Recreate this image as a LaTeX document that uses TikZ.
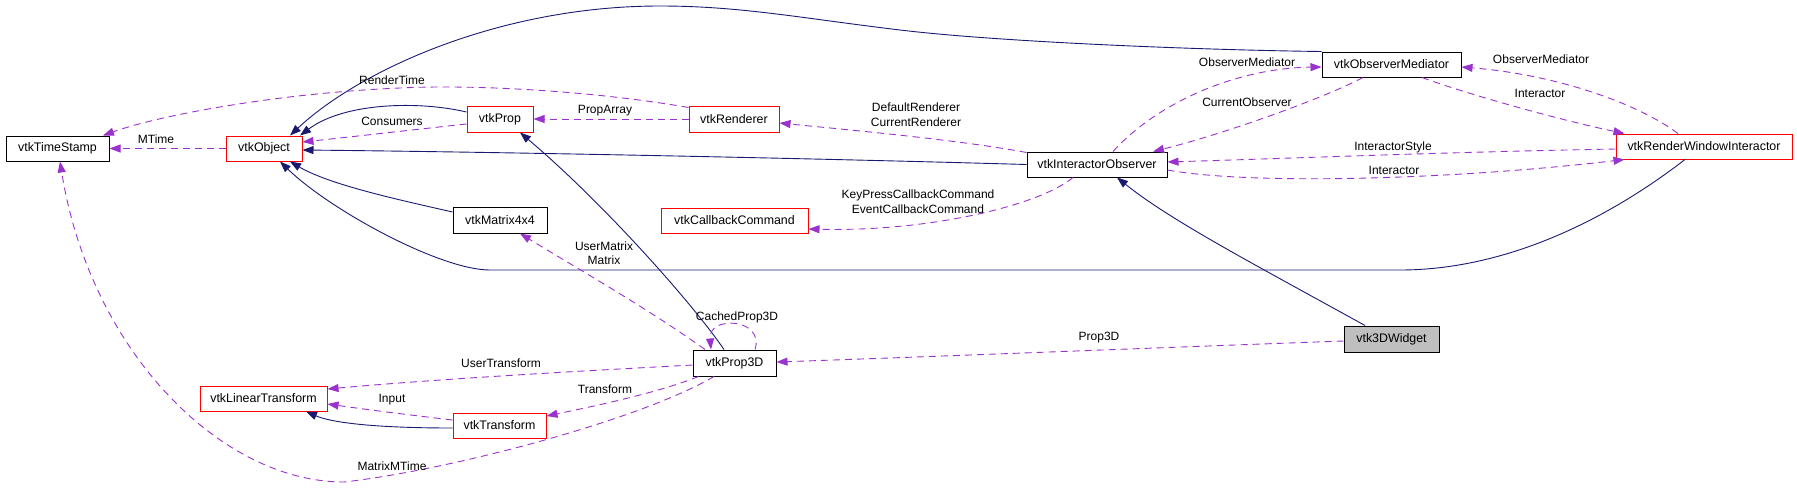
\documentclass[tikz,border=0pt]{standalone}
\usepackage{fontspec}
\setmainfont{Liberation Sans}
\usetikzlibrary{arrows.meta}
\definecolor{inhc}{HTML}{191970}
\definecolor{usec}{HTML}{9A32CD}
\definecolor{gfill}{HTML}{BFBFBF}
\begin{document}
\begin{tikzpicture}[x=1pt,y=-1pt,
 cls/.style={draw=black, line width=1pt, fill=white, inner sep=0pt, font=\fontsize{12.4}{14.5}\selectfont},
 redcls/.style={cls, draw=red},
 inhline/.style={draw=inhc, line width=0.9pt, -{Triangle[length=11pt,width=8pt]}},
 useline/.style={draw=usec, line width=0.9pt, dash pattern=on 7pt off 5pt, -{Triangle[length=11pt,width=8pt]}},
 lbl/.style={inner sep=0pt, font=\fontsize{12}{14.5}\selectfont, align=center}]
\useasboundingbox (0,0) rectangle (1797,488);

% nodes
\node[cls, minimum width=103pt, minimum height=25pt] (ts) at (57.5,148.5) {vtkTimeStamp};
\node[redcls, minimum width=76pt, minimum height=25pt] (obj) at (264,148.5) {vtkObject};
\node[redcls, minimum width=66pt, minimum height=26pt] (prop) at (500,119) {vtkProp};
\node[redcls, minimum width=90pt, minimum height=26pt] (ren) at (734,119) {vtkRenderer};
\node[cls, minimum width=140pt, minimum height=25pt] (io) at (1097,164.5) {vtkInteractorObserver};
\node[cls, minimum width=139pt, minimum height=25pt] (om) at (1391.5,64.5) {vtkObserverMediator};
\node[redcls, minimum width=176pt, minimum height=25pt] (rwi) at (1704,146.5) {vtkRenderWindowInteractor};
\node[cls, minimum width=94pt, minimum height=26pt] (mat) at (500,220) {vtkMatrix4x4};
\node[redcls, minimum width=127pt, minimum height=25pt] (lt) at (263.5,398.5) {vtkLinearTransform};
\node[redcls, minimum width=93pt, minimum height=25pt] (tr) at (499.5,425.5) {vtkTransform};
\node[redcls, minimum width=147pt, minimum height=25pt] (cb) at (734.5,220.5) {vtkCallbackCommand};
\node[cls, minimum width=83pt, minimum height=26pt] (p3) at (734.5,363) {vtkProp3D};
\node[cls, fill=gfill, minimum width=95pt, minimum height=26pt] (w3) at (1391.5,339) {vtk3DWidget};

% inheritance
\draw[inhline] ([yshift=7pt]prop.west) .. controls (420,101) and (345,102) .. ([xshift=36pt]obj.north);
\draw[inhline] (om.north west) .. controls (1200,50) and (1000,42) .. (900,30)
  .. controls (800,18) and (740,6) .. (660,6)
  .. controls (500,6) and (360,70) .. ([xshift=26pt]obj.north);
\draw[inhline] (io.west) .. controls (800,158) and (500,152) .. ([yshift=-1.5pt]obj.east);
\draw[inhline] ([yshift=8pt]mat.west) .. controls (400,200) and (330,185) .. ([xshift=26pt]obj.south);
\draw[inhline] ([xshift=-19pt]rwi.south) .. controls (1600,225) and (1500,270) .. (1400,270)
  -- (490,270) .. controls (440,270) and (330,210) .. ([xshift=16pt]obj.south);
\draw[inhline] ([xshift=-10.5pt]p3.north) .. controls (690,300) and (600,200) .. ([xshift=20pt]prop.south);
\draw[inhline] ([xshift=-26.5pt]w3.north) .. controls (1250,262) and (1170,220) .. ([xshift=20pt]io.south);
\draw[inhline] ([yshift=-2.5pt]tr.west) .. controls (370,428) and (330,422) .. ([xshift=42.5pt]lt.south);

% usage
\draw[useline] (obj.west) -- (ts.east);
\node[lbl] (lmtime) at (156,139) {MTime};

\draw[useline] ([yshift=-2pt]ren.north west) .. controls (600,92) and (480,84) .. (400,88)
  .. controls (280,93) and (160,115) .. ([xshift=45.5pt]ts.north);
\node[lbl] (lrtime) at (392,80) {RenderTime};

\draw[useline] ([yshift=-5pt]prop.west) .. controls (420,129) and (350,137) .. ([yshift=6.5pt]obj.east);
\node[lbl] (lcons) at (392,121) {Consumers};

\draw[useline] (ren.west) -- (prop.east);
\node[lbl] (lparr) at (605,111) {PropArray};

\draw[useline] ([yshift=-1pt]io.north west) .. controls (960,140) and (850,130) .. ([yshift=-4pt]ren.east);
\node[lbl] (lren) at (916,114.5) {DefaultRenderer\\CurrentRenderer};

\draw[useline] ([xshift=16pt]io.north) .. controls (1160,100) and (1240,68) .. ([yshift=-2.5pt]om.west);
\node[lbl] (lom1) at (1247,62) {ObserverMediator};

\draw[useline] ([xshift=-28.5pt]om.south) .. controls (1320,100) and (1220,135) .. ([xshift=56pt]io.north);
\node[lbl] (lcobs) at (1247,102) {CurrentObserver};

\draw[useline] ([xshift=-26pt]rwi.north) .. controls (1640,105) and (1560,75) .. ([yshift=-2.5pt]om.east);
\node[lbl] (lom2) at (1541,59) {ObserverMediator};

\draw[useline] ([xshift=30.5pt]om.south) .. controls (1470,95) and (1560,120) .. ([xshift=9pt]rwi.north west);
\node[lbl] (lint1) at (1540,93) {Interactor};

\draw[useline] ([yshift=-2.5pt]rwi.west) .. controls (1450,152) and (1300,158) .. ([yshift=2.5pt]io.east);
\node[lbl] (listyle) at (1393,147) {InteractorStyle};

\draw[useline] ([yshift=-5.5pt]io.east) .. controls (1250,185) and (1450,180) .. ([xshift=9pt]rwi.south west);
\node[lbl] (lint2) at (1394,170) {Interactor};

\draw[useline] ([xshift=-24pt]io.south) .. controls (1040,205) and (930,232) .. ([yshift=-8.5pt]cb.east);
\node[lbl] (lcb) at (918,201.5) {KeyPressCallbackCommand\\EventCallbackCommand};

\draw[useline] ([xshift=-29.5pt]p3.north) .. controls (650,310) and (580,270) .. ([xshift=20pt]mat.south);
\node[lbl] (lmat) at (604,253) {UserMatrix\\Matrix};

\draw[useline] ([xshift=20.5pt]p3.north) .. controls (765,318) and (708,315) .. ([xshift=-23.5pt]p3.north);
\node[lbl] (lcache) at (737,317) {CachedProp3D};

\draw[useline] ([yshift=-2pt]w3.west) .. controls (1150,348) and (950,356) .. ([yshift=1pt]p3.east);
\node[lbl] (lp3) at (1099,338) {Prop3D};

\draw[useline] ([yshift=-2pt]p3.west) .. controls (600,370) and (450,378) .. ([yshift=9.5pt]lt.east);
\node[lbl] (lut) at (501,363) {UserTransform};

\draw[useline] ([xshift=6pt]p3.south west) .. controls (660,392) and (600,405) .. ([yshift=9.5pt]tr.east);
\node[lbl] (ltr) at (605,389) {Transform};

\draw[useline] ([yshift=5.5pt]tr.west) .. controls (410,415) and (370,410) .. ([yshift=-5.5pt]lt.east);
\node[lbl] (linp) at (392,400) {Input};

\draw[useline] ([xshift=-20.5pt]p3.south) .. controls (640,420) and (450,470) .. (344,482)
  .. controls (220,482) and (90,350) .. ([xshift=2.5pt]ts.south);
\node[lbl] (lmmt) at (392,466) {MatrixMTime};
\end{tikzpicture}
\end{document}
